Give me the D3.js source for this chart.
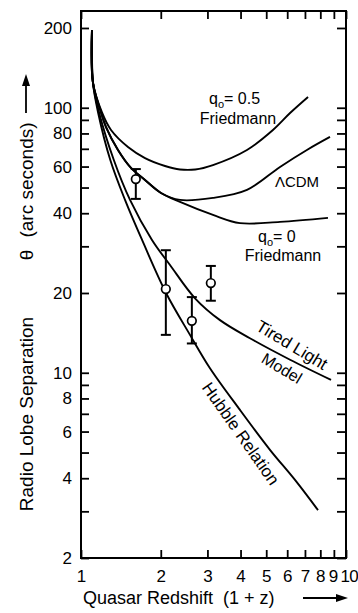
<!DOCTYPE html>
<html>
<head>
<meta charset="utf-8">
<script src="https://cdn.jsdelivr.net/npm/d3@7/dist/d3.min.js"></script>
<style>
  html, body { margin: 0; padding: 0; background: #fff; }
  svg { display: block; }
  text { font-family: "Liberation Sans", Arial, Helvetica, sans-serif; fill: #000; }
</style>
</head>
<body>
<svg id="chart" width="358" height="613"></svg>
<script>
// ---------- data ----------
const xTickValues = [1, 2, 3, 4, 5, 6, 7, 8, 9, 10];
const xTickLabels = ["1", "2", "3", "4", "5", "6", "7", "8", "9", "10"];
const yTickValues = [2, 3, 4, 5, 6, 7, 8, 9, 10, 20, 30, 40, 50, 60, 70, 80, 90, 100, 200];
const yTickLabels = [2, 4, 6, 8, 10, 20, 40, 60, 80, 100, 200];

// curves: [1+z, theta]
const friedmannHalf = [[1.10,196.6],[1.11,124],[1.20,96],[1.298,82.4],[1.504,71.1],[1.744,64.6],[2.075,60.3],[2.364,58.5],[2.7,58.5],[3.148,60.8],[4.23,69.3],[5.30,82.4],[6.15,95.5],[7.19,109.8]];
const lambdaCDM = [[1.10,196.6],[1.11,124],[1.19,96],[1.243,84.6],[1.379,69.3],[1.544,59.3],[1.744,53.4],[2.004,47.7],[2.364,44.9],[3.148,45.7],[4.23,49.0],[5.636,59.8],[7.12,69.3],[8.70,77.6]];
const friedmannZero = [[1.10,196.6],[1.11,124],[1.19,96],[1.243,84.6],[1.379,69.3],[1.544,59.3],[1.744,53.4],[2.004,47.7],[2.364,44.1],[3.148,39.4],[3.981,36.7],[5.636,37.1],[8.55,38.4]];
const tiredLight = [[1.10,196.6],[1.11,124],[1.17,96],[1.33,63.5],[1.531,44.9],[1.853,31.7],[2.167,25.5],[2.693,19.1],[3.346,15.8],[4.34,13.5],[6.15,11.2],[8.78,9.40]];
const hubbleRelation = [[1.10,196.6],[1.11,124],[1.16,96],[1.29,63.5],[1.466,44.9],[1.70,31.7],[2.094,20.0],[2.578,13.9],[3.067,10.4],[3.98,7.24],[5.165,5.12],[6.42,3.94],[7.84,3.03]];

// observed points
const obsX  = [1.61, 2.09, 2.62, 3.09];
const obsY  = [53.8, 20.7, 15.7, 21.8];
const obsLo = [45.3, 13.9, 12.9, 18.7];
const obsHi = [58.7, 29.0, 19.3, 25.3];

// ---------- drawing ----------
(function () {
const svg = d3.select("#chart");
const mLeft = 81, mRight = 346, mTop = 11, mBottom = 558;

const x = d3.scaleLog().domain([1, 10]).range([mLeft, mRight]);
const y = d3.scaleLog().domain([2, 231.8]).range([mBottom, mTop]);

const axisStroke = 1.8;

const gL = svg.append("g").attr("transform", `translate(${mLeft},0)`)
  .call(d3.axisLeft(y).tickValues(yTickValues).tickSize(-8).tickPadding(9)
    .tickFormat(d => yTickLabels.includes(d) ? String(d) : ""));
const gR = svg.append("g").attr("transform", `translate(${mRight},0)`)
  .call(d3.axisRight(y).tickValues(yTickValues).tickSize(-9).tickFormat(() => ""));
const gB = svg.append("g").attr("transform", `translate(0,${mBottom})`)
  .call(d3.axisBottom(x).tickValues(xTickValues).tickSize(-8).tickPadding(12)
    .tickFormat((d, i) => xTickLabels[i]));
const gT = svg.append("g").attr("transform", `translate(0,${mTop})`)
  .call(d3.axisTop(x).tickValues(xTickValues).tickSize(-8).tickFormat(() => ""));

[gL, gR, gB, gT].forEach(g => {
  g.select(".domain").remove();
  g.selectAll(".tick line").attr("stroke", "#000").attr("stroke-width", axisStroke);
  g.selectAll(".tick text").style("font-size", "17px").attr("fill", "#000")
    .style("font-family", '"Liberation Sans", Arial, sans-serif');
});
// last bottom label ("10") sits tight against "9", as in the reference
gB.selectAll(".tick text").filter(d => d === 10)
  .attr("text-anchor", "start").attr("x", -6).style("letter-spacing", "-0.8px");
gB.selectAll(".tick text").filter(d => d === 9).attr("x", -1);

svg.append("rect").attr("x", mLeft).attr("y", mTop)
  .attr("width", mRight - mLeft).attr("height", mBottom - mTop)
  .attr("fill", "none").attr("stroke", "#000").attr("stroke-width", 2);

const line = d3.line().x(d => x(d[0])).y(d => y(d[1])).curve(d3.curveCatmullRom.alpha(0.5));
[friedmannHalf, lambdaCDM, friedmannZero, tiredLight, hubbleRelation].forEach(c => {
  svg.append("path").attr("d", line(c)).attr("fill", "none")
    .attr("stroke", "#000").attr("stroke-width", 1.9);
});

const cap = 5;
obsX.forEach((vx, i) => {
  const px = x(vx);
  svg.append("line").attr("x1", px).attr("x2", px).attr("y1", y(obsHi[i])).attr("y2", y(obsLo[i]))
    .attr("stroke", "#000").attr("stroke-width", 2);
  [obsHi[i], obsLo[i]].forEach(v => {
    svg.append("line").attr("x1", px - cap).attr("x2", px + cap).attr("y1", y(v)).attr("y2", y(v))
      .attr("stroke", "#000").attr("stroke-width", 2);
  });
  svg.append("circle").attr("cx", px).attr("cy", y(obsY[i])).attr("r", 4.3)
    .attr("fill", "#fff").attr("stroke", "#000").attr("stroke-width", 1.7);
});

function qLabel(xp, yp, val) {
  const t = svg.append("text").attr("x", xp).attr("y", yp).style("font-size", "16px");
  t.append("tspan").text("q");
  t.append("tspan").attr("dy", 4).style("font-size", "11px").text("o");
  t.append("tspan").attr("dy", -4).text("= " + val);
}
qLabel(209, 104, "0.5");
svg.append("text").attr("x", 238).attr("y", 124).attr("text-anchor", "middle")
  .style("font-size", "16px").text("Friedmann");
svg.append("text").attr("x", 297).attr("y", 187).attr("text-anchor", "middle")
  .style("font-size", "15px").text("ΛCDM");
qLabel(258, 242, "0");
svg.append("text").attr("x", 283).attr("y", 261).attr("text-anchor", "middle")
  .style("font-size", "16px").text("Friedmann");

svg.append("text").attr("transform", "translate(289,350) rotate(31)")
  .attr("text-anchor", "middle").style("font-size", "17px").text("Tired Light");
svg.append("text").attr("transform", "translate(279,373) rotate(31)")
  .attr("text-anchor", "middle").style("font-size", "16px").text("Model");
svg.append("text").attr("transform", "translate(236,437) rotate(55)")
  .attr("text-anchor", "middle").style("font-size", "17px").text("Hubble Relation");

svg.append("text").attr("transform", "translate(33,414) rotate(-90)")
  .attr("text-anchor", "middle").style("font-size", "19px").text("Radio Lobe Separation");
svg.append("text").attr("transform", "translate(33,255) rotate(-90)")
  .attr("text-anchor", "middle").style("font-size", "19px").text("θ");
svg.append("text").attr("transform", "translate(33,180) rotate(-90)")
  .attr("text-anchor", "middle").style("font-size", "19px").text("(arc seconds)");
svg.append("line").attr("x1", 26).attr("x2", 26).attr("y1", 113).attr("y2", 84)
  .attr("stroke", "#000").attr("stroke-width", 1.8);
svg.append("path").attr("d", "M26,74 L22,86 L30,86 Z").attr("fill", "#000");

svg.append("text").attr("x", 83).attr("y", 604).style("font-size", "18px")
  .style("white-space", "pre").text("Quasar Redshift  (1 + z)");
svg.append("line").attr("x1", 303).attr("x2", 338).attr("y1", 598).attr("y2", 598)
  .attr("stroke", "#000").attr("stroke-width", 1.8);
svg.append("path").attr("d", "M348,598 L336,594 L336,602 Z").attr("fill", "#000");
})();
</script>
</body>
</html>
